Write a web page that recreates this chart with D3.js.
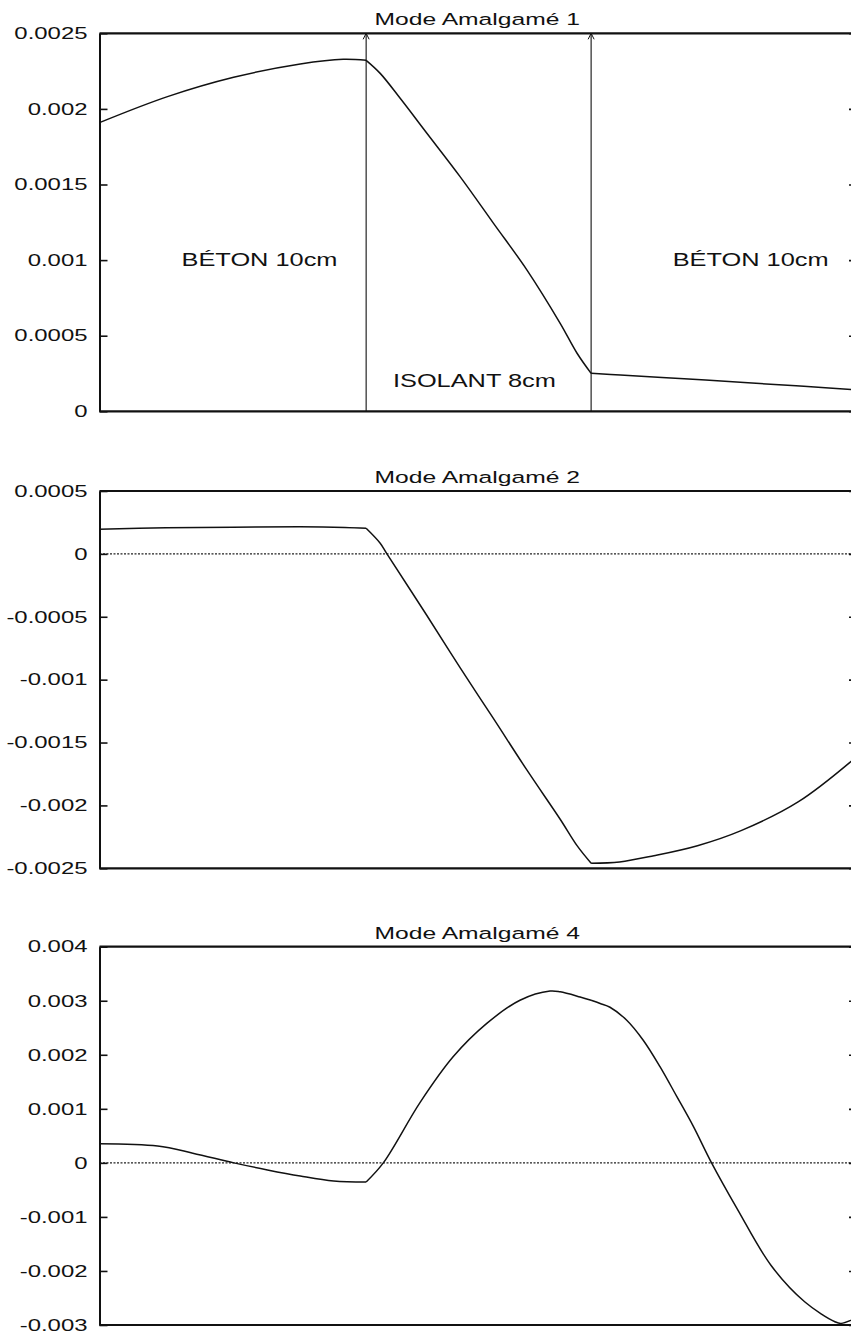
<!DOCTYPE html>
<html>
<head>
<meta charset="utf-8">
<script src="https://cdn.jsdelivr.net/npm/d3@7"></script>
<style>
  html, body { margin: 0; padding: 0; background: #fff; }
  svg { display: block; }
  text { font-family: "Liberation Sans", Arial, Helvetica, sans-serif; fill: #111; }
</style>
</head>
<body>
<svg id="chart" width="851" height="1336"></svg>
<script>
// Wall section: concrete / insulation / concrete (cm)
const layerBounds = [0, 10, 18, 28];
const layerLabels = ["BÉTON 10cm", "ISOLANT 8cm", "BÉTON 10cm"];
const layerLabelX = [6, 13.85, 24];
const layerLabelY = [0.001, 0.0002, 0.001];

// Mode Amalgamé 1
const mode1Title = "Mode Amalgamé 1";
const mode1X = [0, 2.55, 5.03, 7.53, 9.14, 10, 10.5, 11.21, 12.16, 13.34, 14.53, 15.72, 16.9, 17.5, 18, 19.1, 21.5, 23.9, 26, 28];
const mode1Y = [0.001909, 0.002081, 0.002209, 0.002297, 0.002328, 0.002321, 0.002235, 0.00207, 0.001839, 0.001552, 0.001243, 0.000934, 0.000582, 0.000384, 0.000251, 0.000240, 0.000215, 0.000189, 0.000165, 0.000142];
const mode1Ticks = [0, 0.0005, 0.001, 0.0015, 0.002, 0.0025];
const mode1TickLabels = ["0", "0.0005", "0.001", "0.0015", "0.002", "0.0025"];

// Mode Amalgamé 2
const mode2Title = "Mode Amalgamé 2";
const mode2X = [0, 2.5, 5, 7.5, 9.2, 10, 10.5, 10.74, 12.16, 13.34, 14.53, 15.72, 16.9, 17.5, 18, 19.07, 20.36, 22, 23.64, 25.8, 28];
const mode2Y = [0.000196, 0.000207, 0.000212, 0.000215, 0.000210, 0.000204, 0.000085, 0, -0.00049, -0.000905, -0.00131, -0.00172, -0.00211, -0.00232, -0.00246, -0.00245, -0.00240, -0.00232, -0.00220, -0.00197, -0.00161];
const mode2Ticks = [-0.0025, -0.002, -0.0015, -0.001, -0.0005, 0, 0.0005];
const mode2TickLabels = ["-0.0025", "-0.002", "-0.0015", "-0.001", "-0.0005", "0", "0.0005"];

// Mode Amalgamé 4
const mode4Title = "Mode Amalgamé 4";
const mode4X = [0, 2.18, 3.5, 5.04, 6.3, 7.53, 8.78, 10, 10.61, 11.92, 13.1, 14.29, 15.47, 16.54, 16.9, 17.61, 18, 18.34, 18.71, 19.34, 19.96, 20.59, 21.22, 21.84, 22.53, 23.5, 24.77, 26.03, 27.17, 27.4, 28];
const mode4Y = [0.000353, 0.00031, 0.00018, 0, -0.00013, -0.000243, -0.000335, -0.000353, 0, 0.00112, 0.001967, 0.00258, 0.00301, 0.00318, 0.003165, 0.00307, 0.00301, 0.00295, 0.00288, 0.00264, 0.00227, 0.00178, 0.00123, 0.00068, 0, -0.000856, -0.0019, -0.00257, -0.00294, -0.00297, -0.00286];
const mode4Ticks = [-0.003, -0.002, -0.001, 0, 0.001, 0.002, 0.003, 0.004];
const mode4TickLabels = ["-0.003", "-0.002", "-0.001", "0", "0.001", "0.002", "0.003", "0.004"];

// ---- layout ----
const plotLeft = 99.5, plotRight = 857;
const plotW = plotRight - plotLeft;
const stretch = 1.45;           // horizontally widened lettering
const ink = "#111";

const svg = d3.select("#chart");

// Layers are drawn at slightly different widths per cm (mesh spacing)
const x = d3.scaleLinear()
  .domain(layerBounds)
  .range([plotLeft, plotLeft + plotW * 0.352, plotLeft + plotW * 0.649, plotRight]);

const panels = [
  { title: mode1Title, xs: mode1X, ys: mode1Y, ticks: mode1Ticks, labels: mode1TickLabels,
    domain: [0, 0.0025], top: 33.3, bottom: 411.3, zeroLine: false, layers: true },
  { title: mode2Title, xs: mode2X, ys: mode2Y, ticks: mode2Ticks, labels: mode2TickLabels,
    domain: [-0.0025, 0.0005], top: 491, bottom: 868.3, zeroLine: true, layers: false },
  { title: mode4Title, xs: mode4X, ys: mode4Y, ticks: mode4Ticks, labels: mode4TickLabels,
    domain: [-0.003, 0.004], top: 946.7, bottom: 1325, zeroLine: true, layers: false }
];

function stretchText(sel, anchorX) {
  sel.attr("x", anchorX / stretch).attr("transform", `scale(${stretch},1)`);
}

panels.forEach(p => {
  const y = d3.scaleLinear().domain(p.domain).range([p.bottom, p.top]);
  const g = svg.append("g");

  // title
  g.append("text")
    .attr("transform", `translate(${(plotLeft + plotRight) / 2 - 1},${p.top - 8}) scale(${stretch},1)`)
    .attr("text-anchor", "middle")
    .style("font-size", "17px")
    .text(p.title);

  // zero reference line (dotted)
  if (p.zeroLine) {
    g.append("line")
      .attr("x1", plotLeft).attr("x2", plotRight)
      .attr("y1", y(0)).attr("y2", y(0))
      .attr("stroke", "#222").attr("stroke-width", 1.1)
      .attr("stroke-dasharray", "2,1.5");
  }

  // layer interfaces with small arrowheads at the top
  if (p.layers) {
    layerBounds.slice(1, -1).forEach(b => {
      const xb = x(b);
      g.append("line")
        .attr("x1", xb).attr("x2", xb)
        .attr("y1", p.bottom).attr("y2", p.top)
        .attr("stroke", ink).attr("stroke-width", 1.1);
      g.append("path")
        .attr("d", `M${xb - 3},${p.top + 6} L${xb},${p.top} L${xb + 3},${p.top + 6}`)
        .attr("fill", "none").attr("stroke", ink).attr("stroke-width", 1);
    });
    layerLabels.forEach((t, i) => {
      g.append("text")
        .attr("transform", `translate(${x(layerLabelX[i])},${y(layerLabelY[i])}) scale(${stretch},1)`)
        .attr("text-anchor", "middle")
        .attr("dy", "0.36em")
        .style("font-size", "17.5px")
        .text(t);
    });
  }

  // left axis: inward ticks, labels on the outside
  const left = g.append("g")
    .attr("transform", `translate(${plotLeft},0)`)
    .call(d3.axisLeft(y).tickValues(p.ticks)
      .tickFormat((d, i) => p.labels[i])
      .tickSizeInner(-8).tickSizeOuter(0).tickPadding(12));
  left.select(".domain").attr("stroke", ink).attr("stroke-width", 2);
  left.selectAll(".tick line").attr("stroke", ink).attr("stroke-width", 1.6);
  left.selectAll(".tick text")
    .style("font-size", "16.5px")
    .attr("fill", ink)
    .call(stretchText, -12);

  // right axis: inward ticks only
  const right = g.append("g")
    .attr("transform", `translate(${plotRight},0)`)
    .call(d3.axisRight(y).tickValues(p.ticks).tickFormat("")
      .tickSizeInner(-8).tickSizeOuter(0));
  right.select(".domain").attr("stroke", ink).attr("stroke-width", 2);
  right.selectAll(".tick line").attr("stroke", ink).attr("stroke-width", 1.6);

  // top and bottom frame
  [p.top, p.bottom].forEach(yy => {
    g.append("line")
      .attr("x1", plotLeft).attr("x2", plotRight)
      .attr("y1", yy).attr("y2", yy)
      .attr("stroke", ink).attr("stroke-width", 2.2);
  });

  // mode shape, one smooth piece per layer so the interfaces keep their corners
  const pts = p.xs.map((v, i) => [v, p.ys[i]]);
  const line = d3.line()
    .x(d => x(d[0])).y(d => y(d[1]))
    .curve(d3.curveCatmullRom.alpha(0.5));
  for (let k = 0; k < layerBounds.length - 1; k++) {
    const a = layerBounds[k], b = layerBounds[k + 1];
    const seg = pts.filter(d => d[0] >= a && d[0] <= b);
    g.append("path")
      .attr("d", line(seg))
      .attr("fill", "none")
      .attr("stroke", ink)
      .attr("stroke-width", 1.5)
      .attr("stroke-linejoin", "round");
  }
});
</script>
</body>
</html>
